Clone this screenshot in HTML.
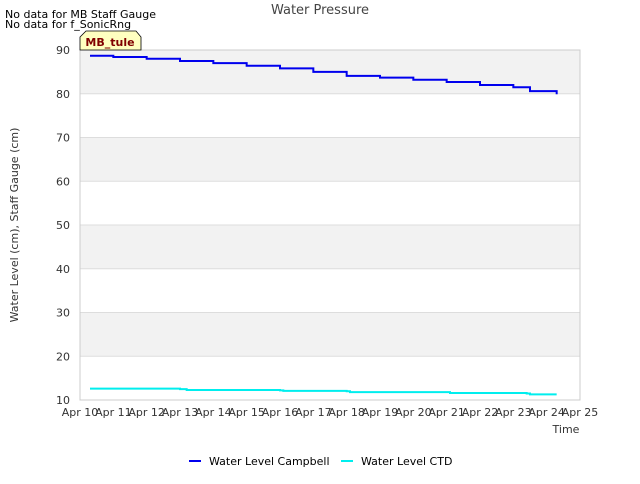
<!DOCTYPE html>
<html><head><meta charset="utf-8"><style>
body{margin:0;background:#fff;font-family:"DejaVu Sans","Liberation Sans",sans-serif;}
svg text{font-family:"DejaVu Sans","Liberation Sans",sans-serif;}
</style></head><body>
<svg id="chart" width="640" height="480">
<text x="320" y="14" text-anchor="middle" font-size="13" fill="#444">Water Pressure</text>
<text x="5" y="18" font-size="11" fill="#000">No data for MB Staff Gauge</text>
<text x="5" y="28" font-size="11" fill="#000">No data for f_SonicRng</text>
<g id="bands"></g><g id="grid"></g><g id="series"></g>
<rect x="80" y="50" width="500" height="350" fill="none" stroke="#ccc"/>
<g id="axes"></g>
<g>
<path d="M80,50 L80,37 L86,31 L136,31 L141,37 L141,50 Z" fill="#ffffc0" stroke="#000" stroke-width="0.8"/>
<text x="110" y="46" text-anchor="middle" font-size="11" font-weight="bold" fill="#800000">MB_tule</text>
</g>
<text x="18" y="225" transform="rotate(-90 18 225)" text-anchor="middle" font-size="11" fill="#333">Water Level (cm), Staff Gauge (cm)</text>
<text x="566" y="433" text-anchor="middle" font-size="11" fill="#333">Time</text>
<g><rect x="189" y="460" width="12" height="2" fill="#0000ee"/><text x="209" y="465" font-size="11" fill="#000">Water Level Campbell</text></g>
<g><rect x="341" y="460" width="12" height="2" fill="#00eeee"/><text x="361" y="465" font-size="11" fill="#000">Water Level CTD</text></g>
</svg>
<script>
const yTicks=[10,20,30,40,50,60,70,80,90];
const xTicks=[10,11,12,13,14,15,16,17,18,19,20,21,22,23,24,25];
const campDays=[10.3,11,12,13,14,15,16,17,18,19,20,21,22,23,23.5,24.3];
const campVals=[88.7,88.4,88.0,87.5,87.0,86.4,85.8,85.0,84.1,83.7,83.2,82.7,82.0,81.5,80.6,79.9];
const ctdDays=[10.3,13,13.2,16,16.1,18,18.1,21,21.1,23.4,23.5,24.3];
const ctdVals=[12.6,12.5,12.3,12.2,12.1,12.0,11.8,11.8,11.6,11.5,11.3,11.3];
const NS="http://www.w3.org/2000/svg";
const X=d=>80+(d-10)*500/15, Y=v=>400-(v-10)*350/80;
function mk(t,a,p){const e=document.createElementNS(NS,t);for(const k in a)e.setAttribute(k,a[k]);p.appendChild(e);return e;}
const bands=document.getElementById('bands'),grid=document.getElementById('grid'),axes=document.getElementById('axes'),ser=document.getElementById('series');
for(let i=0;i<yTicks.length-1;i+=2){const r=mk('rect',{x:80,y:Y(yTicks[i+2]||90),width:500,height:Y(yTicks[i+1])-Y(yTicks[i+2]||90),fill:'#f2f2f2'},bands);

}
yTicks.forEach(v=>{const l=mk('line',{x1:80,x2:580,y1:Y(v),y2:Y(v),stroke:'#ddd'},grid);


const t=mk('text',{x:70,y:Y(v)+4,'text-anchor':'end','font-size':11,fill:'#333'},axes);t.textContent=v;

});
xTicks.forEach(d=>{const t=mk('text',{x:X(d),y:416,'text-anchor':'middle','font-size':11,fill:'#333'},axes);t.textContent='Apr '+d;

});
function step(ds,vs,c,n){let p='M'+X(ds[0])+','+Y(vs[0]);for(let i=1;i<ds.length;i++){p+=' H'+X(ds[i])+' V'+Y(vs[i]);}
const e=mk('path',{d:p,fill:'none',stroke:c,'stroke-width':2},ser);

}
step(campDays,campVals,'#0000ee','series-water-level-campbell');
step(ctdDays,ctdVals,'#00eeee','series-water-level-ctd');
</script>
</body></html>
